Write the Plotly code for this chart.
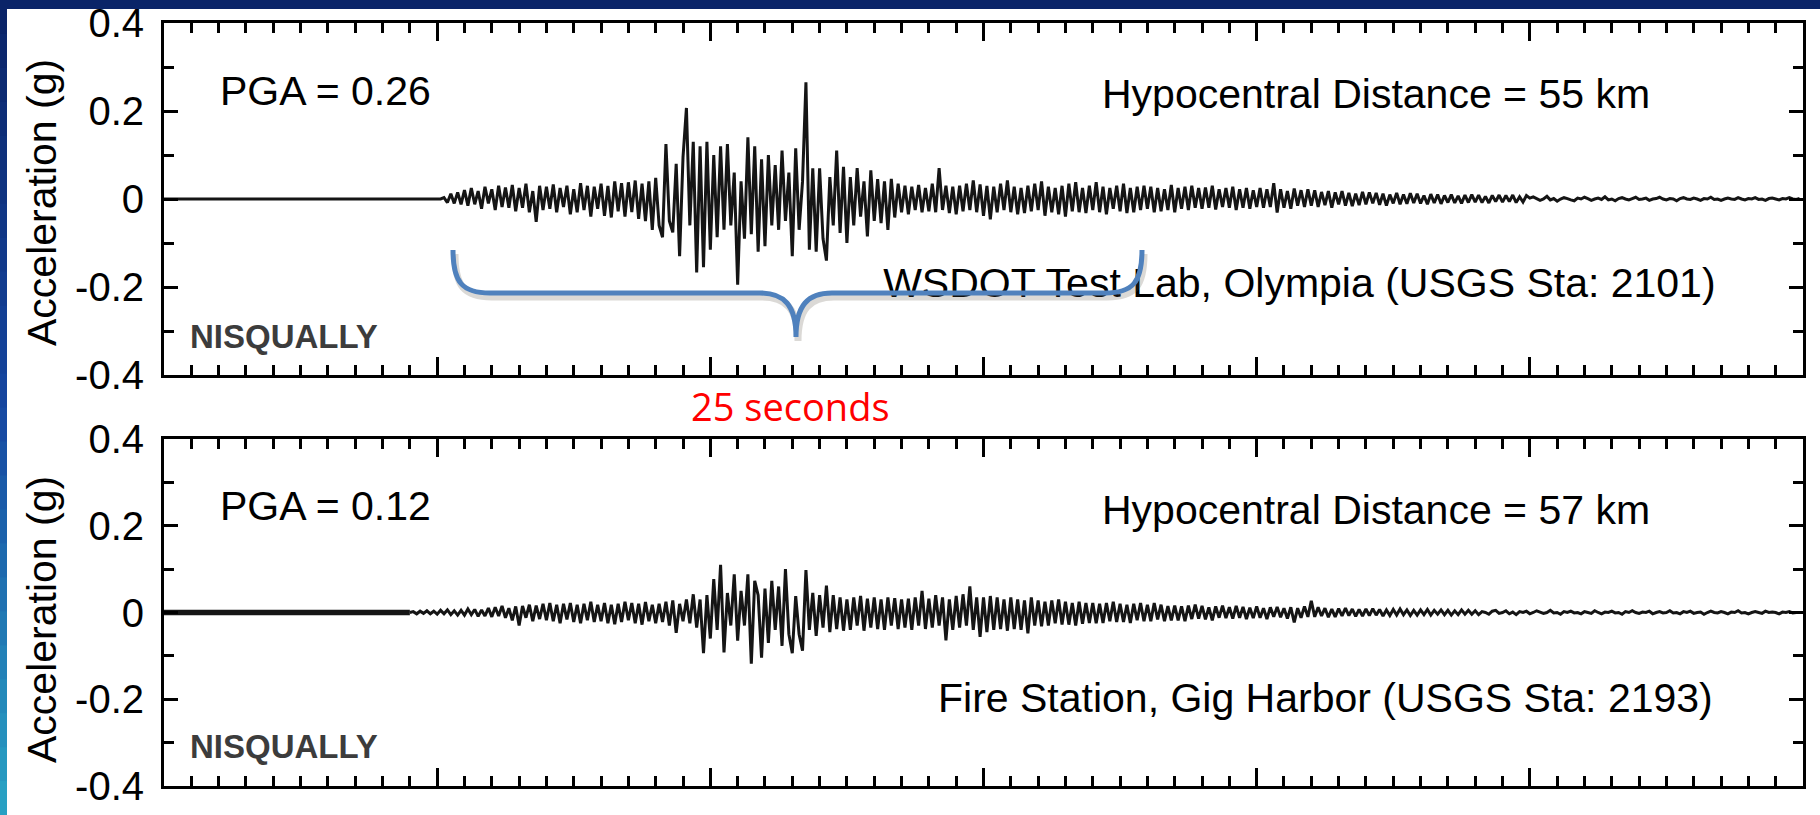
import plotly.graph_objects as go

W, H = 1820, 815

# ---------------- data (acceleration in milli-g, 8 samples per second) ----------------
sample_dt = 0.125
x_range = [0, 60]
y_tick_vals = [-0.4, -0.2, 0, 0.2, 0.4]
y_tick_text = ["-0.4", "-0.2", "0", "0.2", "0.4"]

olympia_t0 = 10.0
olympia_acc_mg = [
    0, 0, 3, -8, 12, -10, 15, -12,            # 10 s
    20, -15, 25, -12, 18, -22, 28, -10,       # 11
    22, -25, 30, -18, 26, -20, 32, -28,       # 12
    25, -20, 35, -30, 18, -52, 30, -25,       # 13
    28, -22, 33, -30, 25, -18, 30, -35,       # 14
    22, -30, 36, -25, 30, -40, 28, -22,       # 15
    35, -38, 30, -42, 40, -28, 36, -40,       # 16
    38, -30, 42, -45, 35, -50, 40, -70,       # 17
    48, -60, -87, 125, -50, -76, 80, -130,    # 18
    95, 207, -60, 130, -167, 120, -155, 130,  # 19
    -115, 100, -87, 120, -70, 125, -60, 60,   # 20
    -195, 40, -90, 140, -80, 120, -120, 90,   # 21
    -107, 100, -60, 77, -70, 110, -50, 60,    # 22
    -130, 115, -70, 40, 265, -115, 70, -120,  # 23
    70, -90, -140, 50, -60, 110, -77, 73,     # 24
    -100, 50, -60, 70, -40, 40, -85, 65,      # 25
    -50, 45, -55, 40, -70, 46, -42, 35,       # 26
    -30, 30, -35, 28, -25, 32, -30, 25,       # 27
    -28, 35, -30, 70, -25, 30, -32, 28,       # 28
    -35, 30, -28, 35, -25, 42, -30, 33,       # 29
    -38, 30, -46, 28, -30, 35, -25, 42,       # 30
    -30, 28, -35, 25, -32, 30, -28, 35,       # 31
    -25, 40, -38, 28, -30, 25, -35, 30,       # 32
    -40, 35, -28, 38, -30, 25, -32, 30,       # 33
    -25, 38, -30, 28, -35, 25, -22, 30,       # 34
    -28, 35, -32, 25, -30, 28, -25, 30,       # 35
    -22, 28, -30, 25, -28, 22, -25, 32,       # 36
    -30, 25, -22, 28, -25, 30, -20, 25,       # 37
    -22, 26, -20, 30, -24, 22, -18, 25,       # 38
    -20, 28, -25, 22, -20, 25, -22, 20,       # 39
    -18, 25, -20, 22, -18, 36, -31, 22,       # 40
    -20, 18, -22, 24, -15, 20, -18, 22,       # 41
    -15, 20, -18, 16, -14, 18, -20, 15,       # 42
    -12, 18, -15, 14, -16, 12, -14, 16,       # 43
    -12, 15, -10, 14, -13, 12, -15, 10,       # 44
    -10, 14, -12, 10, -11, 13, -9, 12,        # 45
    -10, 8, -12, 11, -9, 10, -11, 8,          # 46
    -8, 10, -9, 7, -10, 9, -8, 10,            # 47
    -7, 9, -8, 6, -9, 8, -6, 9,               # 48
    -7, 8, -6, 9, -8, 5, -7, 8,               # 49
    2, 5, 1, -3, 0, 6, -2, 1,                 # 50
    -5, 0, 3, 1, -2, -4, 2, 0,                # 51
    4, 1, -3, 0, 2, -1, 5, -2,                # 52
    0, -4, 1, 3, 0, -2, 1, 4,                 # 53
    -1, 0, 2, -3, 0, 1, 4, 0,                 # 54
    -2, 1, 0, -4, 1, 3, 0, -1,                # 55
    2, 0, -3, 1, 0, 4, -1, 0,                 # 56
    -3, 0, 2, 0, -1, 3, 0, -2,                # 57
    1, 0, 3, -1, 0, -3, 1, 2,                 # 58
    0, -2, 1, 0, 3, 0, -1, 1,                 # 59
]

gig_t0 = 9.0
gig_acc_mg = [
    0, 2, -3, 3, -2, 4, -3, 3,                # 9 s
    -4, 5, -3, 6, -5, 4, -6, 5,               # 10
    -6, 8, -5, 7, -9, 6, -8, 10,              # 11
    -10, 12, -8, 15, -12, 10, -18, 14,        # 12
    -30, 15, -12, 18, -20, 16, -15, 20,       # 13
    -18, 22, -20, 18, -25, 20, -16, 22,       # 14
    -22, 18, -25, 20, -18, 25, -22, 18,       # 15
    -20, 22, -25, 18, -27, 20, -22, 25,       # 16
    -18, 22, -25, 20, -28, 24, -20, 18,       # 17
    -25, 20, -22, 25, -30, 28, -47, 20,       # 18
    -20, 30, -25, 42, -35, 30, -94, 40,       # 19
    -60, 77, -40, 110, -92, 45, -30, 88,      # 20
    -65, 50, -30, 88, -118, 73, 40, -104,     # 21
    55, -70, 73, -40, 60, -77, 100, -50,      # 22
    -94, 38, -50, -88, 98, -40, 45, -54,      # 23
    40, -35, 62, -45, 40, -38, 35, -42,       # 24
    30, -40, 35, -30, 38, -42, 32, -35,       # 25
    35, -38, 30, -40, 35, -30, 33, -38,       # 26
    30, -35, 32, -40, 35, -30, 50, -38,       # 27
    32, -35, 40, -30, 35, -64, 30, -40,       # 28
    38, -35, 42, -30, 60, -40, 35, -56,       # 29
    35, -45, 38, -40, 35, -38, 30, -42,       # 30
    35, -38, 30, -40, 28, -48, 35, -30,       # 31
    28, -32, 25, -30, 28, -25, 30, -28,       # 32
    25, -28, 22, -30, 25, -26, 22, -24,       # 33
    22, -25, 20, -24, 22, -20, 25, -22,       # 34
    20, -22, 18, -24, 20, -18, 22, -20,       # 35
    18, -20, 22, -16, 18, -20, 15, -18,       # 36
    16, -18, 14, -20, 16, -15, 18, -14,       # 37
    15, -16, 12, -18, 14, -12, 16, -13,       # 38
    12, -14, 15, -12, 13, -15, 11, -13,       # 39
    14, -12, 10, -15, 12, -10, 13, -11,       # 40
    10, -14, 12, -23, 10, -12, 14, -10,       # 41
    27, -10, 12, -8, 10, -11, 8, -10,         # 42
    9, -8, 10, -7, 8, -9, 7, -8,              # 43
    8, -7, 9, -6, 7, -8, 6, -7,               # 44
    7, -6, 8, -5, 6, -7, 5, -6,               # 45
    6, -5, 7, -6, 5, -4, 6, -5,               # 46
    5, -6, 4, -5, 6, -4, 5, -4,               # 47
    4, -5, 2, 0, -4, 3, 5, -2,                # 48
    0, 4, -3, 1, -5, 2, 0, 3,                 # 49
    -3, 0, 4, 1, -2, 0, 5, -1,                # 50
    0, -4, 2, 0, 3, -1, 0, -3,                # 51
    2, 0, -2, 4, 0, -3, 1, 0,                 # 52
    3, -1, 0, -4, 2, 0, 4, 0,                 # 53
    -2, 1, 0, 3, -3, 0, 2, -1,                # 54
    0, 4, -1, 0, -3, 2, 0, 3,                 # 55
    -2, 0, 1, -4, 0, 3, 0, -1,                # 56
    2, 0, -3, 1, 0, 4, -1, 0,                 # 57
    -3, 0, 2, 0, -2, 3, 0, 1,                 # 58
    0, -3, 1, 0, 2, -1, 0, 0,                 # 59
]

panel_texts = {
    "top": {"pga": "PGA = 0.26", "dist": "Hypocentral Distance = 55 km",
            "station": "WSDOT Test Lab, Olympia (USGS Sta: 2101)"},
    "bottom": {"pga": "PGA = 0.12", "dist": "Hypocentral Distance = 57 km",
               "station": "Fire Station, Gig Harbor (USGS Sta: 2193)"},
}
event_label = "NISQUALLY"
y_title = "Acceleration (g)"
brace_label = "25 seconds"
olympia_label_pos = (56.8, -0.2)   # data coords of right end of station label (top panel)

# ---------------- helpers ----------------
def px(x):
    return x / W

def py(y):
    return 1 - y / H

def series(t0, vals_mg, lead_zero=True):
    xs = [t0 + i * sample_dt for i in range(len(vals_mg))]
    ys = [v / 1000.0 for v in vals_mg]
    if lead_zero:
        xs = [x_range[0]] + xs
        ys = [0.0] + ys
    return xs, ys

TRACE_COLOR = "#151515"
FONT = "Liberation Sans, Arial, sans-serif"
LW = 3.0

fig = go.Figure()

ox, oy = series(olympia_t0, olympia_acc_mg)
fig.add_trace(go.Scatter(x=ox, y=oy, mode="lines", xaxis="x", yaxis="y",
                         line=dict(color=TRACE_COLOR, width=LW, simplify=False),
                         hoverinfo="skip", showlegend=False))

# station label of top panel as a text trace so that the brace draws over it
fig.add_trace(go.Scatter(x=[olympia_label_pos[0]], y=[olympia_label_pos[1]], mode="text",
                         text=[panel_texts["top"]["station"]], textposition="middle left",
                         textfont=dict(family=FONT, size=41, color="black"),
                         xaxis="x", yaxis="y", hoverinfo="skip", showlegend=False))

fig.add_trace(go.Scatter(x=[x_range[0], gig_t0], y=[0, 0], mode="lines", xaxis="x2", yaxis="y2",
                         line=dict(color=TRACE_COLOR, width=5.5), hoverinfo="skip", showlegend=False))
gx, gy = series(gig_t0, gig_acc_mg, lead_zero=False)
fig.add_trace(go.Scatter(x=gx, y=gy, mode="lines", xaxis="x2", yaxis="y2",
                         line=dict(color=TRACE_COLOR, width=LW, simplify=False),
                         hoverinfo="skip", showlegend=False))

xdom = [px(164), px(1803)]
top_dom = [py(375), py(23)]
bot_dom = [py(786), py(439)]

def xaxis_props(anchor):
    return dict(domain=xdom, anchor=anchor, range=x_range, showline=True, linewidth=3,
                linecolor="black", mirror="ticks", ticks="inside", ticklen=18, tickwidth=3,
                tickcolor="black", tick0=0, dtick=10, showticklabels=False, showgrid=False,
                zeroline=False, fixedrange=True, automargin=False,
                minor=dict(tick0=0, dtick=1, ticks="inside", ticklen=10, tickwidth=3,
                           tickcolor="black", showgrid=False))

def yaxis_props(anchor, dom):
    return dict(domain=dom, anchor=anchor, range=[-0.4, 0.4], showline=True, linewidth=3,
                linecolor="black", mirror="ticks", ticks="inside", ticklen=14, tickwidth=3,
                tickcolor="black", tickmode="array", tickvals=y_tick_vals, ticktext=y_tick_text,
                tickfont=dict(family=FONT, size=40, color="black"), ticklabelstandoff=9,
                showgrid=False, zeroline=False, fixedrange=True, automargin=False,
                minor=dict(tick0=0, dtick=0.1, ticks="inside", ticklen=10, tickwidth=3,
                           tickcolor="black", showgrid=False))

annotations = []

def ann(text, x, y, xanchor, size=41, color="black", family=FONT, angle=0):
    annotations.append(dict(text=text, x=px(x), y=py(y), xref="paper", yref="paper",
                            xanchor=xanchor, yanchor="middle", showarrow=False, textangle=angle,
                            font=dict(family=family, size=size, color=color)))

# top panel
ann(panel_texts["top"]["pga"], 218, 91, "left")
ann(panel_texts["top"]["dist"], 1652, 94, "right")
ann("<b>" + event_label + "</b>", 188, 336, "left", size=33, color="#3c3c3c")
# bottom panel
ann(panel_texts["bottom"]["pga"], 218, 506, "left")
ann(panel_texts["bottom"]["dist"], 1652, 510, "right")
ann(panel_texts["bottom"]["station"], 1715, 698, "right")
ann("<b>" + event_label + "</b>", 188, 746, "left", size=33, color="#3c3c3c")
# y titles
ann(y_title, 42, 203, "center", angle=-90)
ann(y_title, 42, 620, "center", angle=-90)
# brace label
ann(brace_label, 790, 406, "center", size=38, color="#ff0000", family="Open Sans, sans-serif")

def P(x, y):
    return f"{px(x):.5f},{py(y):.5f}"

def brace_path(dx=0, dy=0):
    pts = lambda x, y: P(x + dx, y + dy)
    return ("M " + pts(453, 250) + " C " + pts(453, 282) + " " + pts(462, 293) + " " + pts(490, 293)
            + " L " + pts(760, 293) + " C " + pts(784, 293) + " " + pts(796, 305) + " " + pts(796, 337)
            + " C " + pts(796, 305) + " " + pts(808, 293) + " " + pts(832, 293)
            + " L " + pts(1105, 293) + " C " + pts(1133, 293) + " " + pts(1142, 282) + " " + pts(1142, 250))

shapes = [
    dict(type="path", path=brace_path(2, 4), xref="paper", yref="paper", layer="above",
         line=dict(color="rgba(90,80,70,0.22)", width=7)),
    dict(type="path", path=brace_path(), xref="paper", yref="paper", layer="above",
         line=dict(color="#4f81bd", width=5)),
    # slide frame: top band
    dict(type="rect", x0=0, x1=1, y0=py(9), y1=1, xref="paper", yref="paper", layer="above",
         fillcolor="#0a2468", line=dict(width=0)),
]

# slide frame: left strip with a vertical colour gradient (navy -> teal)
c_top = (10, 36, 104)
c_mid = (22, 70, 160)
c_bot = (40, 160, 195)
n_bands = 24
for i in range(n_bands):
    f = i / (n_bands - 1)
    if f < 0.5:
        g = f / 0.5
        c = tuple(round(c_top[k] + (c_mid[k] - c_top[k]) * g) for k in range(3))
    else:
        g = (f - 0.5) / 0.5
        c = tuple(round(c_mid[k] + (c_bot[k] - c_mid[k]) * g) for k in range(3))
    y0 = H * i / n_bands
    y1 = H * (i + 1) / n_bands + 1
    shapes.append(dict(type="rect", x0=0, x1=px(7), y0=py(min(y1, H)), y1=py(y0),
                       xref="paper", yref="paper", layer="above",
                       fillcolor=f"rgb{c}", line=dict(width=0)))

fig.update_layout(
    width=W, height=H, margin=dict(l=0, r=0, t=0, b=0, autoexpand=False),
    paper_bgcolor="white", plot_bgcolor="white", showlegend=False,
    xaxis=xaxis_props("y"), yaxis=yaxis_props("x", top_dom),
    xaxis2=xaxis_props("y2"), yaxis2=yaxis_props("x2", bot_dom),
    annotations=annotations, shapes=shapes,
)

fig.write_html("out.html", config={"displayModeBar": False},
               post_script="document.body.style.margin='0';document.body.style.overflow='hidden';")
